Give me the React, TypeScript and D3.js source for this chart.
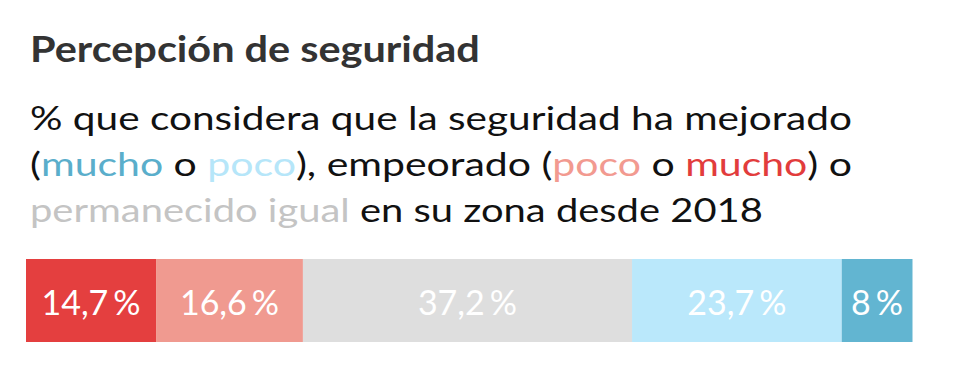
import React, { useLayoutEffect, useRef, useState } from "react";
import * as d3 from "d3";

const categories = ["Empeoró mucho", "Empeoró poco", "Permaneció igual", "Mejoró poco", "Mejoró mucho"];
const values = [14.7, 16.6, 37.2, 23.7, 8];
const labels = ["14,7", "16,6", "37,2", "23,7", "8"];
const colors = ["#e43f3f", "#f09a90", "#dedede", "#bae8fb", "#62b5d1"];

const title = "Percepción de seguridad";
const subtitleLines: { t: string; c: string }[][] = [
  [{ t: "% que considera que la seguridad ha mejorado", c: "#111" }],
  [
    { t: "(", c: "#111" },
    { t: "mucho", c: "#5aaecb" },
    { t: " o ", c: "#111" },
    { t: "poco", c: "#b6e6f9" },
    { t: "), empeorado (", c: "#111" },
    { t: "poco", c: "#f29a90" },
    { t: " o ", c: "#111" },
    { t: "mucho", c: "#e23c3c" },
    { t: ") o", c: "#111" },
  ],
  [
    { t: "permanecido igual", c: "#c4c4c4" },
    { t: " en su zona desde 2018", c: "#111" },
  ],
];
// target widths of title and subtitle lines
const titleWidth = 450;
const subtitleWidths = [822, 822, 733];

export default function App() {
  const width = 960;
  const height = 390;
  const x0 = 26;
  const x1 = 912.5;
  const barTop = 259;
  const barH = 83;

  const titleRef = useRef<SVGTextElement | null>(null);
  const lineRefs = useRef<(SVGTextElement | null)[]>([]);
  const [scales, setScales] = useState<{ title: number; lines: number[] }>({
    title: 1.14,
    lines: [1.25, 1.26, 1.23],
  });

  useLayoutEffect(() => {
    const measure = () => {
      const t = titleRef.current ? titleRef.current.getComputedTextLength() : 0;
      const ls = lineRefs.current.map((el) => (el ? el.getComputedTextLength() : 0));
      setScales({
        title: t > 0 ? titleWidth / t : 1.14,
        lines: ls.map((w, i) => (w > 0 ? subtitleWidths[i] / w : 1.25)),
      });
    };
    measure();
    if ((document as any).fonts && (document as any).fonts.ready) {
      (document as any).fonts.ready.then(measure);
    }
  }, []);

  const total = d3.sum(values);
  const x = d3.scaleLinear().domain([0, total]).range([x0, x1]);
  const stack = values.reduce<number[]>((acc, v, i) => {
    acc.push(i === 0 ? 0 : acc[i - 1] + values[i - 1]);
    return acc;
  }, []);

  return (
    <svg
      width={width}
      height={height}
      style={{ position: "absolute", left: 0, top: 0, background: "#fff" }}
      fontFamily="Lato, 'Open Sans', sans-serif"
    >
      <g transform={`translate(30,62) scale(${scales.title},1)`}>
        <text ref={titleRef} x={0} y={0} fontSize={36.5} fontWeight={700} fill="#333">
          {title}
        </text>
      </g>
      {subtitleLines.map((line, li) => (
        <g key={li} transform={`translate(30,${130 + li * 45.8}) scale(${scales.lines[li]},1)`}>
          <text
            ref={(el) => {
              lineRefs.current[li] = el;
            }}
            x={0}
            y={0}
            fontSize={32.5}
            fontWeight={400}
          >
            {line.map((s, si) => (
              <tspan key={si} fill={s.c}>
                {s.t}
              </tspan>
            ))}
          </text>
        </g>
      ))}
      {values.map((v, i) => {
        const a = x(stack[i]);
        const b = x(stack[i] + v);
        return (
          <g key={categories[i]}>
            <rect x={a} y={barTop} width={b - a} height={barH} fill={colors[i]} />
            <text
              x={(a + b) / 2}
              y={barTop + barH / 2 + 14}
              textAnchor="middle"
              fontSize={34}
              fontWeight={400}
              fill="#fff"
            >
              {labels[i]}
              <tspan dx={5}>%</tspan>
            </text>
          </g>
        );
      })}
    </svg>
  );
}
